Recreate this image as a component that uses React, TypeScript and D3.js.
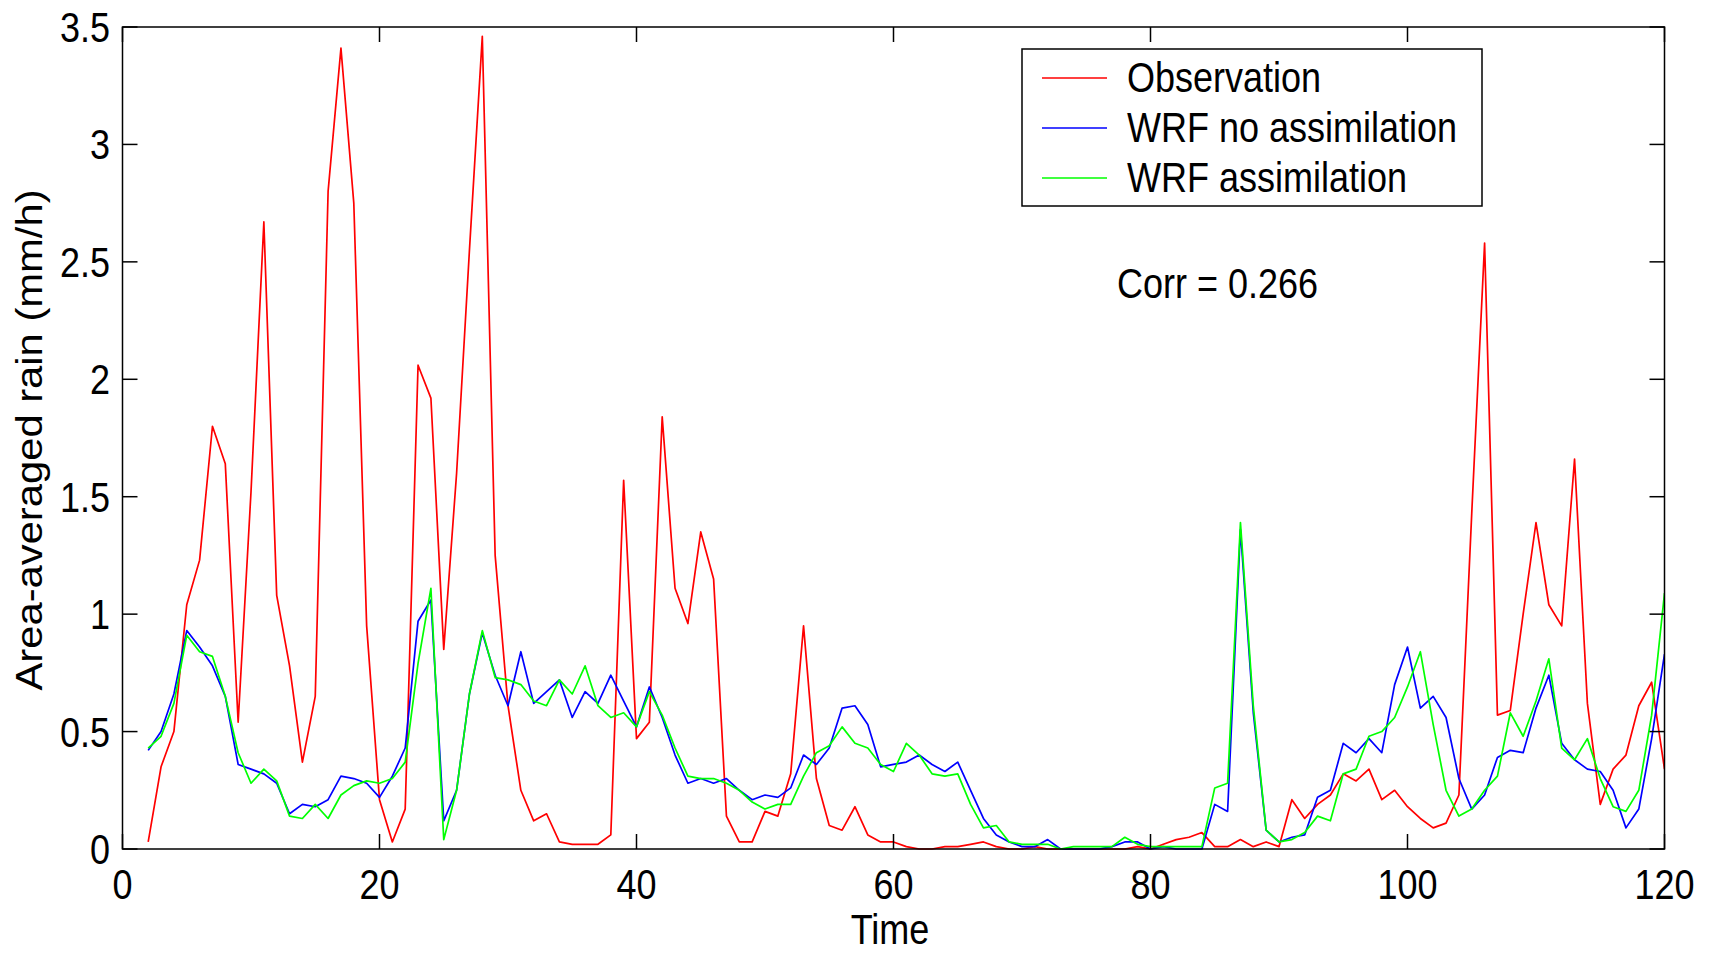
import React from "react";
import * as d3 from "d3";

const times: number[] = d3.range(2, 121);

const observation: number[] = [
  0.03, 0.35, 0.5, 1.04, 1.23, 1.8, 1.64, 0.54, 1.52, 2.67,
  1.08, 0.78, 0.37, 0.65, 2.8, 3.41, 2.75, 0.95, 0.21, 0.03,
  0.17, 2.06, 1.92, 0.85, 1.6, 2.55, 3.46, 1.25, 0.61, 0.25,
  0.12, 0.15, 0.03, 0.02, 0.02, 0.02, 0.06, 1.57, 0.47, 0.54,
  1.84, 1.11, 0.96, 1.35, 1.15, 0.14, 0.03, 0.03, 0.16, 0.14,
  0.32, 0.95, 0.3, 0.1, 0.08, 0.18, 0.06, 0.03, 0.03, 0.01,
  0.0, 0.0, 0.01, 0.01, 0.02, 0.03, 0.01, 0.0, 0.0, 0.01,
  0.0, 0.0, 0.0, 0.0, 0.0, 0.0, 0.0, 0.01, 0.0, 0.02,
  0.04, 0.05, 0.07, 0.01, 0.01, 0.04, 0.01, 0.03, 0.01, 0.21,
  0.13, 0.19, 0.23, 0.32, 0.29, 0.34, 0.21, 0.25, 0.18, 0.13,
  0.09, 0.11, 0.23, 1.43, 2.58, 0.57, 0.59, 1.0, 1.39, 1.04,
  0.95, 1.66, 0.62, 0.19, 0.34, 0.4, 0.61, 0.71, 0.34,
];

const wrfNoAssim: number[] = [
  0.42, 0.5, 0.66, 0.93, 0.86, 0.78, 0.65, 0.36, 0.34, 0.32,
  0.28, 0.15, 0.19, 0.18, 0.21, 0.31, 0.3, 0.28, 0.22, 0.31,
  0.43, 0.97, 1.06, 0.12, 0.25, 0.66, 0.92, 0.74, 0.61, 0.84,
  0.62, 0.67, 0.72, 0.56, 0.67, 0.62, 0.74, 0.63, 0.52, 0.69,
  0.56, 0.4, 0.28, 0.3, 0.28, 0.3, 0.25, 0.21, 0.23, 0.22,
  0.26, 0.4, 0.36, 0.43, 0.6, 0.61, 0.53, 0.35, 0.36, 0.37,
  0.4, 0.36, 0.33, 0.37, 0.25, 0.13, 0.06, 0.03, 0.01, 0.01,
  0.04, 0.0, 0.0, 0.0, 0.0, 0.01, 0.03, 0.03, 0.0, 0.01,
  0.0, 0.0, 0.0, 0.19, 0.16, 1.36, 0.58, 0.08, 0.03, 0.05,
  0.06, 0.22, 0.25, 0.45, 0.41, 0.47, 0.41, 0.7, 0.86, 0.6,
  0.65, 0.56, 0.3, 0.17, 0.23, 0.39, 0.42, 0.41, 0.6, 0.74,
  0.45, 0.38, 0.34, 0.33, 0.25, 0.09, 0.17, 0.47, 0.83,
];

const wrfAssim: number[] = [
  0.43, 0.48, 0.62, 0.91, 0.84, 0.82, 0.65, 0.41, 0.28, 0.34,
  0.29, 0.14, 0.13, 0.19, 0.13, 0.23, 0.27, 0.29, 0.28, 0.3,
  0.37, 0.79, 1.11, 0.04, 0.25, 0.66, 0.93, 0.73, 0.72, 0.7,
  0.63, 0.61, 0.72, 0.66, 0.78, 0.61, 0.56, 0.58, 0.52, 0.67,
  0.57, 0.43, 0.31, 0.3, 0.3, 0.28, 0.25, 0.2, 0.17, 0.19,
  0.19, 0.31, 0.41, 0.44, 0.52, 0.45, 0.43, 0.36, 0.33, 0.45,
  0.4, 0.32, 0.31, 0.32, 0.19, 0.09, 0.1, 0.03, 0.02, 0.02,
  0.02, 0.0, 0.01, 0.01, 0.01, 0.01, 0.05, 0.02, 0.01, 0.01,
  0.01, 0.01, 0.01, 0.26, 0.28, 1.39, 0.61, 0.08, 0.03, 0.04,
  0.07, 0.14, 0.12, 0.32, 0.34, 0.48, 0.5, 0.56, 0.69, 0.84,
  0.53, 0.25, 0.14, 0.17, 0.25, 0.31, 0.58, 0.48, 0.63, 0.81,
  0.43, 0.38, 0.47, 0.3, 0.18, 0.16, 0.25, 0.57, 1.09,
];

const xTicks: number[] = [0, 20, 40, 60, 80, 100, 120];
const yTicks: number[] = [0, 0.5, 1, 1.5, 2, 2.5, 3, 3.5];

const seriesNames: string[] = ["Observation", "WRF no assimilation", "WRF assimilation"];
const seriesColors: string[] = ["#ff0000", "#0000ff", "#00ff00"];

const W = 1709;
const H = 954;
const left = 122.5;
const right = 1664.5;
const top = 27;
const bottom = 849;
const FONT = "'Liberation Sans', Arial, Helvetica, sans-serif";
const FS = 36;
const VS = 1.16;
const TICK = 15;

export default function App() {
  const x = d3.scaleLinear().domain([0, 120]).range([left, right]);
  const y = d3.scaleLinear().domain([0, 3.5]).range([bottom, top]);
  const allSeries = [observation, wrfNoAssim, wrfAssim];
  const line = d3
    .line<[number, number]>()
    .x((d) => x(d[0]))
    .y((d) => y(d[1]));

  const txt = (
    key: string,
    tx: number,
    ty: number,
    s: string,
    anchor: string = "start",
    rotate: boolean = false
  ) => (
    <text
      key={key}
      transform={`translate(${tx},${ty}) scale(1,${VS})${rotate ? " rotate(-90)" : ""}`}
      textAnchor={anchor}
      fontFamily={FONT}
      fontSize={FS}
      fill="#000"
    >
      {s}
    </text>
  );

  return (
    <svg
      width={W}
      height={H}
      style={{ position: "absolute", left: 0, top: 0, background: "#fff" }}
    >
      <rect x={0} y={0} width={W} height={H} fill="#fff" />
      <defs>
        <clipPath id="plotclip">
          <rect x={left} y={top - 2} width={right - left} height={bottom - top + 4} />
        </clipPath>
      </defs>
      <g clipPath="url(#plotclip)">
        {allSeries.map((vals, i) => (
          <path
            key={seriesNames[i]}
            d={line(times.map((t, j) => [t, vals[j]] as [number, number])) || ""}
            fill="none"
            stroke={seriesColors[i]}
            strokeWidth={1.7}
            strokeLinejoin="round"
          />
        ))}
      </g>
      {/* frame */}
      <rect
        x={left}
        y={top}
        width={right - left}
        height={bottom - top}
        fill="none"
        stroke="#000"
        strokeWidth={1.5}
      />
      {/* x ticks */}
      {xTicks.map((t) => (
        <g key={"xt" + t}>
          <line x1={x(t)} x2={x(t)} y1={bottom} y2={bottom - TICK} stroke="#000" strokeWidth={1.5} />
          <line x1={x(t)} x2={x(t)} y1={top} y2={top + TICK} stroke="#000" strokeWidth={1.5} />
          {txt("xl" + t, x(t), 899, String(t), "middle")}
        </g>
      ))}
      {/* y ticks */}
      {yTicks.map((v) => (
        <g key={"yt" + v}>
          <line x1={left} x2={left + TICK} y1={y(v)} y2={y(v)} stroke="#000" strokeWidth={1.5} />
          <line x1={right} x2={right - TICK} y1={y(v)} y2={y(v)} stroke="#000" strokeWidth={1.5} />
          {txt("yl" + v, 110, y(v) + 15, String(v), "end")}
        </g>
      ))}
      {txt("xlabel", 890, 944, "Time", "middle")}
      {txt("ylabel", 42, 440, "Area-averaged rain (mm/h)", "middle", true)}
      {/* legend */}
      <rect x={1022} y={49} width={460} height={157} fill="#fff" stroke="#000" strokeWidth={1.5} />
      {seriesNames.map((n, i) => {
        const ly = 78 + i * 50;
        return (
          <g key={"lg" + n}>
            <line x1={1042} x2={1107} y1={ly} y2={ly} stroke={seriesColors[i]} strokeWidth={1.7} />
            {txt("lt" + n, 1127, ly + 14, n)}
          </g>
        );
      })}
      {txt("corr", 1117, 298, "Corr = 0.266")}
    </svg>
  );
}
